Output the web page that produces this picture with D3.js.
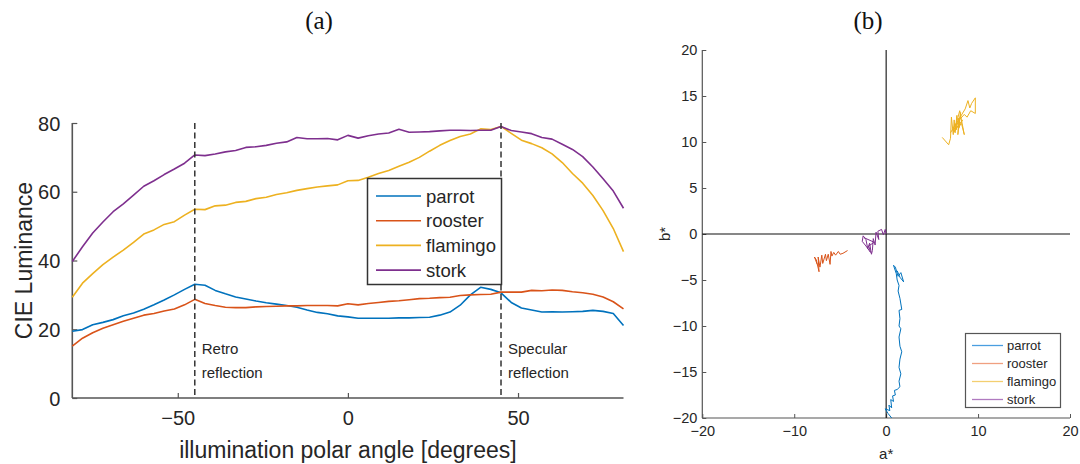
<!DOCTYPE html>
<html><head><meta charset="utf-8">
<script src="https://cdn.jsdelivr.net/npm/d3@7"></script>
<style>body{margin:0;background:#fff}svg{display:block}</style>
</head><body>
<svg id="c" width="1080" height="464"></svg>
<script>
// ---------- Panel (a) data ----------
const angles = [-81,-78,-75,-72,-69,-66,-63,-60,-57,-54,-51,-48,-45,-42,-39,-36,-33,-30,-27,-24,-21,-18,-15,-12,-9,-6,-3,0,3,6,9,12,15,18,21,24,27,30,33,36,39,42,45,48,51,54,57,60,63,66,69,72,75,78,81];
const parrotL = [19.4,19.9,21.3,22.0,22.8,23.9,24.7,25.8,27.1,28.5,30.0,31.6,33.1,32.8,31.3,30.3,29.4,28.8,28.2,27.7,27.3,26.9,26.4,25.6,24.9,24.5,23.9,23.6,23.2,23.2,23.2,23.2,23.3,23.3,23.4,23.5,24.1,25.0,27.0,30.0,32.2,31.6,30.6,27.8,26.2,25.6,25.0,25.1,25.0,25.1,25.2,25.5,25.2,24.6,21.1];
const roosterL = [15.1,17.4,19.0,20.3,21.3,22.3,23.2,24.1,24.6,25.3,25.9,27.1,28.7,27.5,26.9,26.4,26.3,26.3,26.5,26.6,26.7,26.8,26.8,26.9,26.9,26.9,26.8,27.4,27.1,27.5,27.8,28.1,28.3,28.6,28.9,29.0,29.2,29.3,29.8,30.0,30.1,30.2,30.8,30.8,30.8,31.3,31.2,31.4,31.3,30.9,30.6,30.2,29.4,28.0,25.9];
const flamingoL = [29.3,33.4,36.2,38.8,41.0,43.0,45.3,47.7,48.9,50.5,51.3,53.2,54.9,54.8,55.9,56.1,56.9,57.2,58.0,58.4,59.2,59.7,60.4,60.9,61.4,61.7,62.0,63.2,63.3,64.2,65.3,66.2,67.4,68.6,70.0,71.8,73.5,74.9,76.1,76.8,78.3,78.1,79.0,77.0,75.0,74.0,72.8,71.0,68.5,65.3,62.5,58.9,54.5,49.3,42.6];
const storkL = [39.7,44.0,48.0,51.2,54.2,56.5,59.0,61.6,63.2,65.0,66.6,68.3,70.7,70.5,71.0,71.6,72.0,72.9,73.1,73.5,74.1,74.5,75.8,75.4,75.4,75.5,75.1,76.4,75.6,76.3,76.8,77.1,78.2,77.3,77.4,77.5,77.7,77.9,77.9,77.8,77.9,77.9,79.0,77.8,77.4,76.9,75.8,75.3,73.8,72.3,70.2,67.2,63.8,60.2,55.2];
const seriesNames = ["parrot","rooster","flamingo","stork"];
const seriesColors = ["#0072BD","#D95319","#EDB120","#7E2F8E"];
const legendBColors = ["#4a9ee0","#f0a080","#f3cf70","#b07ac0"];
const yTicksA = [0,20,40,60,80];
const xTicksA = [-50,0,50];
const markerAngles = [-45,45];
const markerLabels = [["Retro","reflection"],["Specular","reflection"]];

// ---------- Panel (b) data: [a*, b*] trajectories ----------
const parrotAB = [[0.6,-20.0],[0.2,-19.5],[-0.1,-19.0],[0.4,-19.2],[0.3,-18.6],[0.6,-18.9],[0.5,-18.0],[0.8,-18.2],[0.7,-17.6],[1.0,-17.5],[0.9,-17.0],[1.2,-16.9],[1.5,-16.6],[1.4,-16.0],[1.6,-15.2],[1.4,-14.5],[1.5,-13.6],[1.7,-12.8],[1.5,-12.2],[1.4,-11.2],[1.6,-10.3],[1.4,-10.0],[1.5,-9.2],[1.4,-8.3],[1.7,-8.2],[1.5,-7.0],[1.3,-6.2],[1.4,-5.6],[1.2,-5.0],[1.1,-4.3],[0.8,-3.4],[1.0,-3.6],[1.3,-4.6],[1.6,-4.2],[1.9,-5.2],[1.5,-4.7],[1.2,-4.0]];
const roosterAB = [[-4.2,-1.8],[-4.7,-2.1],[-5.0,-2.2],[-5.2,-1.9],[-5.5,-2.3],[-5.7,-2.0],[-5.9,-2.4],[-6.0,-1.9],[-6.1,-3.3],[-6.3,-2.2],[-6.5,-2.9],[-6.6,-2.2],[-6.9,-3.2],[-7.0,-2.3],[-7.2,-3.6],[-7.4,-2.5],[-7.3,-4.1],[-7.6,-2.8],[-7.8,-2.5],[-7.5,-3.3]];
const flamingoAB = [[6.1,10.5],[6.8,9.7],[7.0,10.4],[7.1,12.7],[7.3,10.8],[7.4,12.4],[7.5,11.0],[7.7,12.9],[7.6,11.3],[7.9,12.6],[7.8,10.8],[8.1,13.2],[7.9,11.5],[8.3,12.4],[7.4,11.1],[8.0,13.4],[8.5,10.8],[8.2,12.0],[7.2,11.3],[8.6,13.6],[8.9,14.5],[9.1,13.7],[9.3,14.2],[9.7,14.8],[9.7,13.1],[9.2,13.4],[8.8,12.7],[8.5,13.0],[7.6,12.0],[7.0,11.0]];
const storkAB = [[0.0,0.0],[-0.1,0.5],[-0.3,-0.1],[-0.5,0.5],[-0.9,0.3],[-0.8,-0.6],[-1.1,0.2],[-1.2,-1.2],[-1.4,-0.5],[-1.5,-1.8],[-1.6,-2.2],[-1.8,-1.0],[-2.0,-1.6],[-2.2,-0.6],[-2.5,-0.2],[-2.6,-0.8],[-2.2,-1.3],[-1.7,-2.0],[-1.9,-1.3],[-1.3,-0.9],[-2.4,-0.4]];
const xTicksB = [-20,-10,0,10,20];
const yTicksB = [-20,-15,-10,-5,0,5,10,15,20];

const svg = d3.select("#c");
const sans = "'Liberation Sans', Arial, Helvetica, sans-serif";
const serif = "'Liberation Serif', 'DejaVu Serif', serif";
const axisCol = "#555";

// ================= Panel (a) =================
const A = {l:72.3, r:623.5, t:123, b:398};
const xa = d3.scaleLinear().domain([-81,81]).range([A.l, A.r]);
const ya = d3.scaleLinear().domain([0,80]).range([A.b, A.t]);
const ga = svg.append("g");

ga.append("text").attr("x",319).attr("y",29).attr("text-anchor","middle")
  .attr("font-family",serif).attr("font-size",25).attr("fill","#111").text("(a)");

const gxa = ga.append("g").attr("transform",`translate(0,${A.b})`)
  .call(d3.axisBottom(xa).tickValues(xTicksA).tickSize(-5).tickPadding(14).tickFormat(d3.format("d")));
const gya = ga.append("g").attr("transform",`translate(${A.l},0)`)
  .call(d3.axisLeft(ya).tickValues(yTicksA).tickSize(-5).tickPadding(12));
[gxa,gya].forEach(g=>{
  g.select(".domain").attr("stroke",axisCol).attr("stroke-width",1.6);
  g.selectAll(".tick line").attr("stroke",axisCol).attr("stroke-width",1.2);
  g.selectAll(".tick text").attr("fill","#262626").attr("font-family",sans).attr("font-size",20);
});
gxa.select(".domain").attr("d",`M${A.l},0H${A.r}`);
gya.select(".domain").attr("d",`M0,${A.b}V${A.t}`);
gxa.selectAll(".tick text").attr("dy","0.71em").attr("y",13);
gya.selectAll(".tick text").attr("dy","0.36em");

ga.append("text").attr("x",(A.l+A.r)/2).attr("y",458).attr("text-anchor","middle")
  .attr("font-family",sans).attr("font-size",23).attr("fill","#262626").text("illumination polar angle [degrees]");
ga.append("text").attr("transform",`translate(32,${(A.t+A.b)/2}) rotate(-90)`).attr("text-anchor","middle")
  .attr("font-family",sans).attr("font-size",23).attr("fill","#262626").text("CIE Luminance");

const lumSeries = [parrotL, roosterL, flamingoL, storkL];
const lineA = d3.line().x((d,i)=>xa(angles[i])).y(d=>ya(d));
lumSeries.forEach((s,k)=>{
  ga.append("path").attr("d",lineA(s)).attr("fill","none")
    .attr("stroke",seriesColors[k]).attr("stroke-width",1.6).attr("stroke-linejoin","round");
});

markerAngles.forEach((a,k)=>{
  ga.append("line").attr("x1",xa(a)).attr("x2",xa(a)).attr("y1",ya(80)).attr("y2",A.b)
    .attr("stroke","#333").attr("stroke-width",1.5).attr("stroke-dasharray","6,3.5");
  markerLabels[k].forEach((t,j)=>{
    ga.append("text").attr("x",xa(a)+7).attr("y",354+j*24).attr("font-family",sans)
      .attr("font-size",15).attr("fill","#262626").text(t);
  });
});

// legend (a)
const La = {x:367.5, y:178.5, w:134, h:106};
const lga = ga.append("g");
lga.append("rect").attr("x",La.x).attr("y",La.y).attr("width",La.w).attr("height",La.h)
  .attr("fill","#fff").attr("stroke","#333").attr("stroke-width",1.5);
seriesNames.forEach((n,k)=>{
  const yy = 196 + k*24.7;
  lga.append("line").attr("x1",376).attr("x2",421).attr("y1",yy).attr("y2",yy)
    .attr("stroke",seriesColors[k]).attr("stroke-width",1.6);
  lga.append("text").attr("x",426).attr("y",yy).attr("dy","0.36em").attr("font-family",sans)
    .attr("font-size",18.5).attr("fill","#262626").text(n);
});

// ================= Panel (b) =================
const B = {l:702.3, r:1070, t:50, b:418};
const xb = d3.scaleLinear().domain([-20,20]).range([B.l,B.r]);
const yb = d3.scaleLinear().domain([-20,20]).range([B.b,B.t]);
const gb = svg.append("g");

gb.append("text").attr("x",868).attr("y",29).attr("text-anchor","middle")
  .attr("font-family",serif).attr("font-size",25).attr("fill","#111").text("(b)");

const gxb = gb.append("g").attr("transform",`translate(0,${B.b})`)
  .call(d3.axisBottom(xb).tickValues(xTicksB).tickSize(-4).tickPadding(8));
const gyb = gb.append("g").attr("transform",`translate(${B.l},0)`)
  .call(d3.axisLeft(yb).tickValues(yTicksB).tickSize(-4).tickPadding(5));
[gxb,gyb].forEach(g=>{
  g.select(".domain").attr("stroke",axisCol).attr("stroke-width",1.2);
  g.selectAll(".tick line").attr("stroke",axisCol).attr("stroke-width",1);
  g.selectAll(".tick text").attr("fill","#262626").attr("font-family",sans).attr("font-size",14.5);
});
gxb.select(".domain").attr("d",`M${B.l},0H${B.r}`);
gyb.select(".domain").attr("d",`M0,${B.b}V${B.t}`);

gb.append("text").attr("x",(B.l+B.r)/2).attr("y",459).attr("text-anchor","middle")
  .attr("font-family",sans).attr("font-size",15).attr("fill","#262626").text("a*");
gb.append("text").attr("transform",`translate(670,${(B.t+B.b)/2}) rotate(-90)`).attr("text-anchor","middle")
  .attr("font-family",sans).attr("font-size",15).attr("fill","#262626").text("b*");

// crosshair
gb.append("line").attr("x1",xb(0)).attr("x2",xb(0)).attr("y1",B.t).attr("y2",B.b).attr("stroke","#111").attr("stroke-width",1.1);
gb.append("line").attr("x1",B.l).attr("x2",B.r).attr("y1",yb(0)).attr("y2",yb(0)).attr("stroke","#111").attr("stroke-width",1.1);

const abSeries = [parrotAB, roosterAB, flamingoAB, storkAB];
const lineB = d3.line().x(d=>xb(d[0])).y(d=>yb(d[1]));
abSeries.forEach((s,k)=>{
  gb.append("path").attr("d",lineB(s)).attr("fill","none")
    .attr("stroke",seriesColors[k]).attr("stroke-width",1).attr("stroke-linejoin","round");
});

// legend (b)
const Lb = {x:965.5, y:333.5, w:95, h:74};
gb.append("rect").attr("x",Lb.x).attr("y",Lb.y).attr("width",Lb.w).attr("height",Lb.h)
  .attr("fill","#fff").attr("stroke","#555").attr("stroke-width",1.2);
seriesNames.forEach((n,k)=>{
  const yy = 345.5 + k*18;
  gb.append("line").attr("x1",972).attr("x2",1003).attr("y1",yy).attr("y2",yy)
    .attr("stroke",legendBColors[k]).attr("stroke-width",1.3);
  gb.append("text").attr("x",1007).attr("y",yy).attr("dy","0.36em").attr("font-family",sans)
    .attr("font-size",13).attr("fill","#262626").text(n);
});
</script>
</body></html>
